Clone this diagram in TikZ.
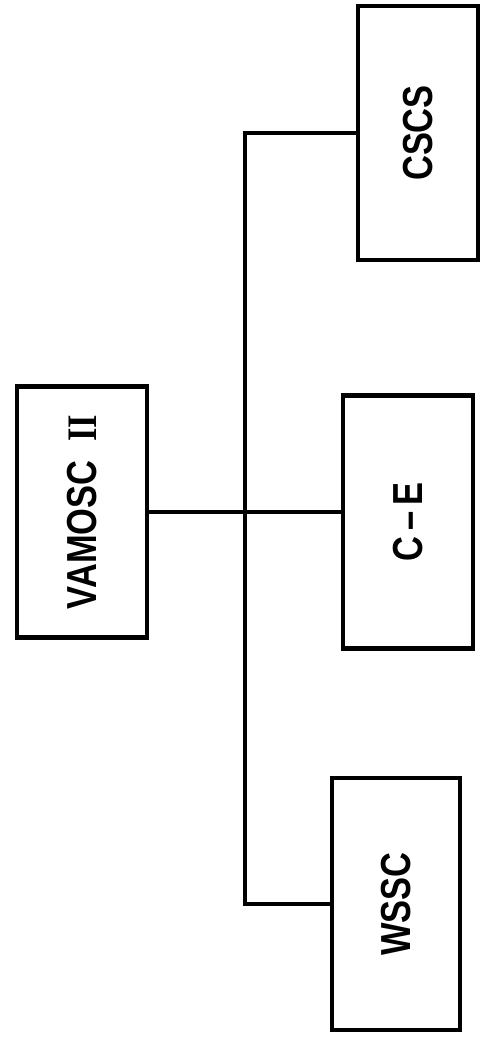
\documentclass[tikz,border=0pt]{standalone}
\usepackage{fontspec}
\setmainfont{Liberation Sans}
\newfontfamily\numeralfont{Liberation Serif}
\usetikzlibrary{positioning}
\newcommand{\upright}[1]{\rotatebox{90}{\scalebox{0.82}[1]{#1}}}
\begin{document}
\begin{tikzpicture}[x=1pt,y=-1pt,
unit/.style={
% The boxes:
rectangle,
draw=black,
line width=4.5pt,
minimum width=128pt,
minimum height=252pt,
inner sep=0pt,
font=\fontsize{42}{48}\selectfont\bfseries
},
link/.style={line width=3.5pt}
]
\useasboundingbox (0,0) rectangle (483,1037);
\node (vamosc) [unit,minimum width=130pt,minimum height=251pt] at (82,512) {\upright{VAMOSC\hspace{23pt}{\numeralfont II}}};
\node (cscs) [unit,minimum width=120pt,minimum height=254pt] at (418,133) {\upright{CSCS}};
\node (ce) [unit,minimum width=130pt,minimum height=253pt] at (408,522) {\upright{C\,--\,E}};
\node (wssc) [unit] at (396,904) {\upright{WSSC}};
\coordinate (bus) at (245,512);
\draw[link] (vamosc.east) -- (vamosc.east -| ce.west);
\draw[link] (cscs.west) -| (bus) |- (wssc.west);
\end{tikzpicture}
\end{document}
